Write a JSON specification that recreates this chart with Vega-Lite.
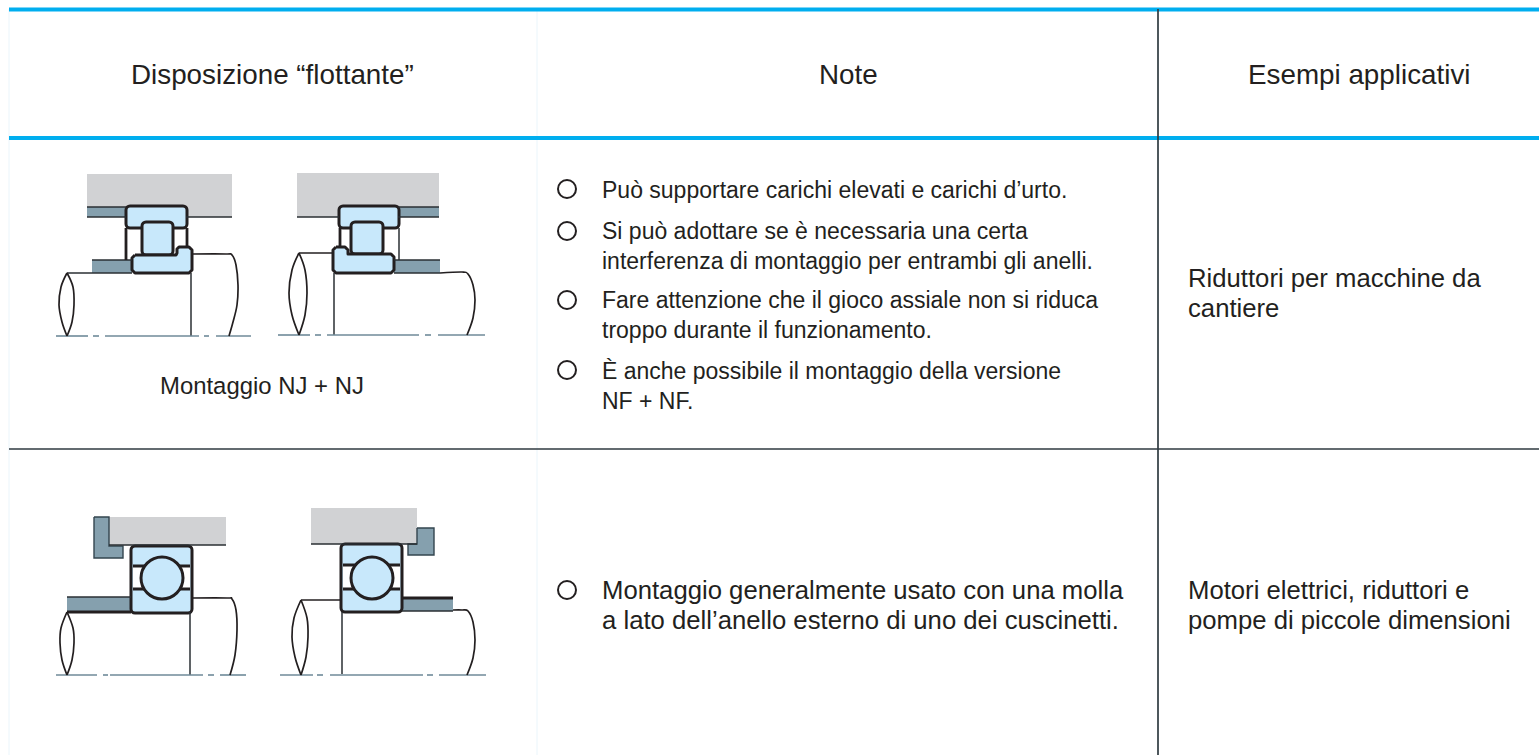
{
"$schema":"https://vega.github.io/schema/vega-lite/v6.json",
"width":1539,"height":755,"padding":0,"autosize":{"type":"none"},
"background":"white","config":{"view":{"stroke":null}},
"datasets":{
"blocks":[
{"part":"housing","x":87,"x2":232,"y":174,"y2":217},
{"part":"spacer","x":87,"x2":126,"y":207,"y2":217},
{"part":"spacer","x":92,"x2":132,"y":260,"y2":273},
{"part":"housing","x":297,"x2":439,"y":173,"y2":217},
{"part":"spacer","x":398,"x2":439,"y":207,"y2":217},
{"part":"spacer","x":394,"x2":440,"y":260,"y2":273},
{"part":"housing","x":109,"x2":226,"y":517,"y2":545},
{"part":"spacer","x":67,"x2":131,"y":597,"y2":612},
{"part":"housing","x":311,"x2":417,"y":508,"y2":544},
{"part":"spacer","x":402,"x2":453,"y":598,"y2":611}
],
"polygons":[
{"id":"w1","i":1,"x":94,"y":517},{"id":"w1","i":2,"x":109,"y":517},{"id":"w1","i":3,"x":109,"y":546},{"id":"w1","i":4,"x":123,"y":546},{"id":"w1","i":5,"x":123,"y":558},{"id":"w1","i":6,"x":94,"y":558},{"id":"w1","i":7,"x":94,"y":517},
{"id":"w2","i":1,"x":417,"y":528},{"id":"w2","i":2,"x":434,"y":528},{"id":"w2","i":3,"x":434,"y":555},{"id":"w2","i":4,"x":408,"y":555},{"id":"w2","i":5,"x":408,"y":544},{"id":"w2","i":6,"x":417,"y":544},{"id":"w2","i":7,"x":417,"y":528}
],
"rings":[
{"x":126,"x2":187,"y":206,"y2":228},
{"x":142,"x2":173,"y":222,"y2":255},
{"x":339,"x2":399,"y":206,"y2":228},
{"x":351,"x2":383,"y":222,"y2":254},
{"x":131,"x2":192,"y":546,"y2":613},
{"x":341,"x2":402,"y":544,"y2":612}
],
"innerRings":[
{"id":"r1","i":1,"x":135,"y":255},{"id":"r1","i":2,"x":176,"y":255},{"id":"r1","i":3,"x":177,"y":253},{"id":"r1","i":4,"x":177,"y":249},{"id":"r1","i":5,"x":179,"y":247},{"id":"r1","i":6,"x":189,"y":247},{"id":"r1","i":7,"x":192,"y":250},{"id":"r1","i":8,"x":192,"y":270},{"id":"r1","i":9,"x":189,"y":273},{"id":"r1","i":10,"x":135,"y":273},{"id":"r1","i":11,"x":132,"y":270},{"id":"r1","i":12,"x":132,"y":258},{"id":"r1","i":13,"x":135,"y":255},
{"id":"r2","i":1,"x":336,"y":247},{"id":"r2","i":2,"x":345,"y":247},{"id":"r2","i":3,"x":348,"y":250},{"id":"r2","i":4,"x":348,"y":254},{"id":"r2","i":5,"x":391,"y":254},{"id":"r2","i":6,"x":394,"y":257},{"id":"r2","i":7,"x":394,"y":270},{"id":"r2","i":8,"x":391,"y":273},{"id":"r2","i":9,"x":336,"y":273},{"id":"r2","i":10,"x":333,"y":270},{"id":"r2","i":11,"x":333,"y":250},{"id":"r2","i":12,"x":336,"y":247}
],
"bands":[
{"x":133,"x2":190,"y":566,"y2":589},
{"x":343,"x2":400,"y":565,"y2":589}
],
"rules":[
{"kind":"faint","x":9,"x2":9,"y":9,"y2":755},
{"kind":"faint","x":537,"x2":537,"y":9,"y2":755},
{"kind":"blue","x":9,"x2":1539,"y":9.5,"y2":9.5},
{"kind":"blue","x":9,"x2":1539,"y":138,"y2":138},
{"kind":"table","x":9,"x2":1539,"y":449,"y2":449},
{"kind":"table","x":1158,"x2":1158,"y":9,"y2":755},
{"kind":"thin","x":186,"x2":232,"y":217,"y2":217},
{"kind":"thin","x":87,"x2":126,"y":207,"y2":207},
{"kind":"thin","x":87,"x2":126,"y":217,"y2":217},
{"kind":"thin","x":92,"x2":132,"y":260,"y2":260},
{"kind":"thin","x":67,"x2":132,"y":273,"y2":273},
{"kind":"thin","x":191,"x2":191,"y":273,"y2":336},
{"kind":"thick","x":126,"x2":126,"y":228,"y2":260},
{"kind":"thick","x":187,"x2":187,"y":228,"y2":247},
{"kind":"thin","x":297,"x2":339,"y":217,"y2":217},
{"kind":"thin","x":398,"x2":439,"y":207,"y2":207},
{"kind":"thin","x":398,"x2":439,"y":217,"y2":217},
{"kind":"thin","x":394,"x2":440,"y":260,"y2":260},
{"kind":"thin","x":394,"x2":440,"y":273,"y2":273},
{"kind":"thin","x":334,"x2":334,"y":273,"y2":335},
{"kind":"thick","x":340,"x2":340,"y":228,"y2":247},
{"kind":"thin","x":399,"x2":399,"y":228,"y2":260},
{"kind":"thin","x":109,"x2":226,"y":545,"y2":545},
{"kind":"thin","x":67,"x2":131,"y":597,"y2":597},
{"kind":"thick","x":67,"x2":131,"y":612,"y2":612},
{"kind":"thin","x":190,"x2":190,"y":612,"y2":675},
{"kind":"thin","x":311,"x2":417,"y":544,"y2":544},
{"kind":"thick","x":402,"x2":453,"y":598,"y2":598},
{"kind":"thin","x":402,"x2":453,"y":611,"y2":611},
{"kind":"thin","x":342,"x2":342,"y":612,"y2":674},
{"kind":"thick","x":133,"x2":190,"y":566,"y2":566},
{"kind":"thick","x":133,"x2":190,"y":589,"y2":589},
{"kind":"thick","x":343,"x2":400,"y":565,"y2":565},
{"kind":"thick","x":343,"x2":400,"y":589,"y2":589},
{"kind":"center","x":56,"x2":88,"y":336,"y2":336},{"kind":"center","x":93,"x2":99,"y":336,"y2":336},{"kind":"center","x":105,"x2":199,"y":336,"y2":336},{"kind":"center","x":204,"x2":209,"y":336,"y2":336},{"kind":"center","x":216,"x2":251,"y":336,"y2":336},
{"kind":"center","x":278,"x2":310,"y":335,"y2":335},{"kind":"center","x":315,"x2":321,"y":335,"y2":335},{"kind":"center","x":327,"x2":419,"y":335,"y2":335},{"kind":"center","x":425,"x2":431,"y":335,"y2":335},{"kind":"center","x":438,"x2":485,"y":335,"y2":335},
{"kind":"center","x":56,"x2":97,"y":675,"y2":675},{"kind":"center","x":103,"x2":108,"y":675,"y2":675},{"kind":"center","x":110,"x2":203,"y":675,"y2":675},{"kind":"center","x":208,"x2":214,"y":675,"y2":675},{"kind":"center","x":220,"x2":246,"y":675,"y2":675},
{"kind":"center","x":280,"x2":313,"y":675,"y2":675},{"kind":"center","x":317,"x2":323,"y":675,"y2":675},{"kind":"center","x":330,"x2":423,"y":675,"y2":675},{"kind":"center","x":427,"x2":433,"y":675,"y2":675},{"kind":"center","x":439,"x2":486,"y":675,"y2":675}
],
"curves":[
{"id":"a1","i":1,"x":67,"y":273},{"id":"a1","i":2,"x":61,"y":287},{"id":"a1","i":3,"x":59,"y":305},{"id":"a1","i":4,"x":62,"y":322},{"id":"a1","i":5,"x":67,"y":336},
{"id":"a2","i":1,"x":67,"y":273},{"id":"a2","i":2,"x":73,"y":287},{"id":"a2","i":3,"x":74,"y":305},{"id":"a2","i":4,"x":72,"y":322},{"id":"a2","i":5,"x":67,"y":336},
{"id":"a3","i":1,"x":192,"y":254},{"id":"a3","i":2,"x":226,"y":254},{"id":"a3","i":3,"x":232,"y":255},{"id":"a3","i":4,"x":236,"y":265},{"id":"a3","i":5,"x":238,"y":285},{"id":"a3","i":6,"x":237,"y":305},{"id":"a3","i":7,"x":233,"y":322},{"id":"a3","i":8,"x":229,"y":336},
{"id":"b1","i":1,"x":299,"y":253},{"id":"b1","i":2,"x":292,"y":270},{"id":"b1","i":3,"x":289,"y":293},{"id":"b1","i":4,"x":292,"y":315},{"id":"b1","i":5,"x":299,"y":335},
{"id":"b2","i":1,"x":299,"y":253},{"id":"b2","i":2,"x":305,"y":270},{"id":"b2","i":3,"x":307,"y":293},{"id":"b2","i":4,"x":305,"y":315},{"id":"b2","i":5,"x":299,"y":335},
{"id":"b3","i":1,"x":299,"y":253},{"id":"b3","i":2,"x":333,"y":253},
{"id":"b4","i":1,"x":440,"y":273},{"id":"b4","i":2,"x":462,"y":272},{"id":"b4","i":3,"x":468,"y":274},{"id":"b4","i":4,"x":473,"y":285},{"id":"b4","i":5,"x":475,"y":300},{"id":"b4","i":6,"x":473,"y":318},{"id":"b4","i":7,"x":467,"y":335},
{"id":"c1","i":1,"x":67,"y":612},{"id":"c1","i":2,"x":61,"y":628},{"id":"c1","i":3,"x":60,"y":643},{"id":"c1","i":4,"x":62,"y":660},{"id":"c1","i":5,"x":67,"y":675},
{"id":"c2","i":1,"x":67,"y":612},{"id":"c2","i":2,"x":73,"y":628},{"id":"c2","i":3,"x":74,"y":643},{"id":"c2","i":4,"x":72,"y":660},{"id":"c2","i":5,"x":67,"y":675},
{"id":"c3","i":1,"x":192,"y":598},{"id":"c3","i":2,"x":227,"y":598},{"id":"c3","i":3,"x":232,"y":599},{"id":"c3","i":4,"x":236,"y":610},{"id":"c3","i":5,"x":237,"y":630},{"id":"c3","i":6,"x":235,"y":655},{"id":"c3","i":7,"x":230,"y":675},
{"id":"d1","i":1,"x":301,"y":600},{"id":"d1","i":2,"x":294,"y":618},{"id":"d1","i":3,"x":292,"y":637},{"id":"d1","i":4,"x":295,"y":657},{"id":"d1","i":5,"x":301,"y":675},
{"id":"d2","i":1,"x":301,"y":600},{"id":"d2","i":2,"x":307,"y":618},{"id":"d2","i":3,"x":308,"y":637},{"id":"d2","i":4,"x":306,"y":657},{"id":"d2","i":5,"x":301,"y":675},
{"id":"d3","i":1,"x":301,"y":600},{"id":"d3","i":2,"x":341,"y":600},
{"id":"d4","i":1,"x":453,"y":610},{"id":"d4","i":2,"x":462,"y":610},{"id":"d4","i":3,"x":468,"y":611},{"id":"d4","i":4,"x":473,"y":622},{"id":"d4","i":5,"x":475,"y":640},{"id":"d4","i":6,"x":473,"y":658},{"id":"d4","i":7,"x":467,"y":675}
],
"dots":[
{"part":"bullet","x":567,"y":189},{"part":"bullet","x":567,"y":231},{"part":"bullet","x":567,"y":300},{"part":"bullet","x":567,"y":370},{"part":"bullet","x":567,"y":590},
{"part":"ball","x":162,"y":578},{"part":"ball","x":372,"y":578}
],
"texts":[
{"role":"note","t":"Può supportare carichi elevati e carichi d’urto.","x":602,"y":199},
{"role":"note","t":"Si può adottare se è necessaria una certa","x":602,"y":240},
{"role":"note","t":"interferenza di montaggio per entrambi gli anelli.","x":602,"y":270},
{"role":"note","t":"Fare attenzione che il gioco assiale non si riduca","x":602,"y":309},
{"role":"note","t":"troppo durante il funzionamento.","x":602,"y":339},
{"role":"note","t":"È anche possibile il montaggio della versione","x":602,"y":380},
{"role":"note","t":"NF + NF.","x":602,"y":410},
{"role":"head","t":"Disposizione “flottante”","x":131,"y":84},
{"role":"head","t":"Note","x":819,"y":84},
{"role":"head","t":"Esempi applicativi","x":1248,"y":84},
{"role":"cap","t":"Montaggio NJ + NJ","x":160,"y":394},
{"role":"wide","t":"Riduttori per macchine da","x":1188,"y":288},
{"role":"wide","t":"cantiere","x":1188,"y":318},
{"role":"wide","t":"Montaggio generalmente usato con una molla","x":602,"y":600},
{"role":"wide","t":"a lato dell’anello esterno di uno dei cuscinetti.","x":602,"y":630},
{"role":"wide","t":"Motori elettrici, riduttori e","x":1188,"y":600},
{"role":"wide","t":"pompe di piccole dimensioni","x":1188,"y":630}
]
},
"encoding":{
"x":{"field":"x","type":"quantitative","axis":null,"scale":{"domain":[0,1539],"nice":false,"zero":false}},
"y":{"field":"y","type":"quantitative","axis":null,"scale":{"domain":[755,0],"nice":false,"zero":false}}
},
"layer":[
{"data":{"name":"blocks"},"mark":{"type":"rect","strokeWidth":0},
 "encoding":{"x2":{"field":"x2"},"y2":{"field":"y2"},
 "fill":{"field":"part","type":"nominal","legend":null,"scale":{"domain":["housing","spacer"],"range":["#d1d2d4","#85a0ae"]}}}},
{"data":{"name":"polygons"},"mark":{"type":"line","fill":"#85a0ae","stroke":"#33454f","strokeWidth":1.4},
 "encoding":{"detail":{"field":"id"},"order":{"field":"i","type":"quantitative"}}},
{"data":{"name":"rings"},"mark":{"type":"rect","fill":"#c8e8fb","stroke":"#231f20","strokeWidth":3,"cornerRadius":4},
 "encoding":{"x2":{"field":"x2"},"y2":{"field":"y2"}}},
{"data":{"name":"bands"},"mark":{"type":"rect","fill":"#ffffff","strokeWidth":0},
 "encoding":{"x2":{"field":"x2"},"y2":{"field":"y2"}}},
{"data":{"name":"innerRings"},"mark":{"type":"line","fill":"#c8e8fb","stroke":"#231f20","strokeWidth":3,"strokeJoin":"round"},
 "encoding":{"detail":{"field":"id"},"order":{"field":"i","type":"quantitative"}}},
{"data":{"name":"rules"},"transform":[{"filter":"datum.kind==='faint'"}],"mark":{"type":"rule","stroke":"#eaf5fb","strokeWidth":1},"encoding":{"x2":{"field":"x2"},"y2":{"field":"y2"}}},
{"data":{"name":"rules"},"transform":[{"filter":"datum.kind==='blue'"}],"mark":{"type":"rule","stroke":"#00aeef","strokeWidth":3.8},"encoding":{"x2":{"field":"x2"},"y2":{"field":"y2"}}},
{"data":{"name":"rules"},"transform":[{"filter":"datum.kind==='table'"}],"mark":{"type":"rule","stroke":"#2f3a40","strokeWidth":1.7},"encoding":{"x2":{"field":"x2"},"y2":{"field":"y2"}}},
{"data":{"name":"rules"},"transform":[{"filter":"datum.kind==='thin'"}],"mark":{"type":"rule","stroke":"#2a2f33","strokeWidth":1.5},"encoding":{"x2":{"field":"x2"},"y2":{"field":"y2"}}},
{"data":{"name":"rules"},"transform":[{"filter":"datum.kind==='thick'"}],"mark":{"type":"rule","stroke":"#231f20","strokeWidth":2.8},"encoding":{"x2":{"field":"x2"},"y2":{"field":"y2"}}},
{"data":{"name":"rules"},"transform":[{"filter":"datum.kind==='center'"}],"mark":{"type":"rule","stroke":"#6f8a99","strokeWidth":1.6},"encoding":{"x2":{"field":"x2"},"y2":{"field":"y2"}}},
{"data":{"name":"curves"},"mark":{"type":"line","interpolate":"cardinal","stroke":"#231f20","strokeWidth":1.7},
 "encoding":{"detail":{"field":"id"},"order":{"field":"i","type":"quantitative"}}},
{"data":{"name":"dots"},"transform":[{"filter":"datum.part==='bullet'"}],"mark":{"type":"point","shape":"circle","filled":true,"fill":"#ffffff","stroke":"#231f20","strokeWidth":2,"size":324,"opacity":1}},
{"data":{"name":"dots"},"transform":[{"filter":"datum.part==='ball'"}],"mark":{"type":"point","shape":"circle","filled":true,"fill":"#c8e8fb","stroke":"#231f20","strokeWidth":3,"size":1764,"opacity":1}},
{"data":{"name":"texts"},"transform":[{"filter":"datum.role==='note'"}],"mark":{"type":"text","font":"Liberation Sans","fontSize":23,"dy":-1,"align":"left","baseline":"alphabetic","fill":"#231f20"},"encoding":{"text":{"field":"t"}}},
{"data":{"name":"texts"},"transform":[{"filter":"datum.role==='head'"}],"mark":{"type":"text","font":"Liberation Sans","fontSize":27.8,"align":"left","baseline":"alphabetic","fill":"#231f20"},"encoding":{"text":{"field":"t"}}},
{"data":{"name":"texts"},"transform":[{"filter":"datum.role==='cap'"}],"mark":{"type":"text","font":"Liberation Sans","fontSize":23.9,"align":"left","baseline":"alphabetic","fill":"#231f20"},"encoding":{"text":{"field":"t"}}},
{"data":{"name":"texts"},"transform":[{"filter":"datum.role==='wide'"}],"mark":{"type":"text","font":"Liberation Sans","fontSize":25.7,"dy":-1,"align":"left","baseline":"alphabetic","fill":"#231f20"},"encoding":{"text":{"field":"t"}}}
]
}
